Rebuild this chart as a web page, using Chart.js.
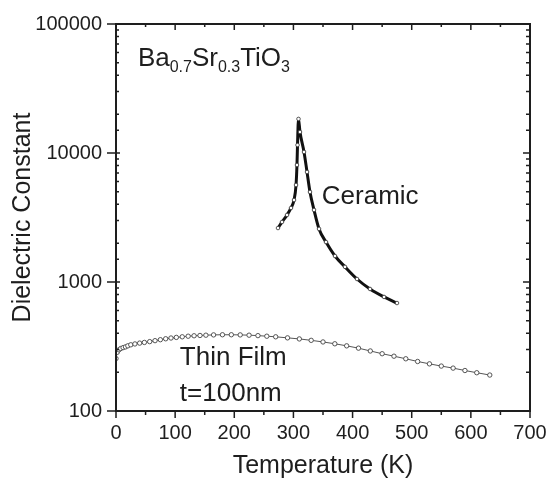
<!DOCTYPE html>
<html>
<head>
<meta charset="utf-8">
<script src="https://cdn.jsdelivr.net/npm/chart.js@4/dist/chart.umd.min.js"></script>
<style>
  body { margin: 0; background: #fff; }
  canvas { display: block; }
</style>
</head>
<body>
<canvas id="chart" width="551" height="481"></canvas>
<script>
/* Ceramic: temperature (K) and dielectric constant */
const ceramicT = [273.9, 280.7, 289.2, 295.9, 301.0, 304.4, 306.0, 306.9, 308.6,
                  311.1, 317.9, 323.0, 328.0, 334.8, 343.3, 355.1, 370.3, 387.2, 407.5, 429.5, 453.2, 475.1];
const ceramicEps = [2620, 2920, 3310, 3750, 4320, 5650, 8070, 11530, 18370,
                    14550, 10190, 7130, 4990, 3620, 2580, 2040, 1590, 1310, 1055, 883, 766, 687];

/* Thin film, t = 100 nm */
const filmT = [0, 2, 5, 8, 12, 16, 20, 25, 32, 40, 48, 57, 66, 75, 84, 93, 102, 112, 122, 132, 142, 152, 165, 180,
               195, 210, 225, 240, 255, 270, 290, 310, 330, 350, 370, 390, 410, 430, 450, 470, 490, 510, 530, 550, 570, 590, 610, 632];
const filmEps = [255, 285, 298, 305, 310, 314, 320, 326, 331, 336, 340, 345, 351, 357, 363, 368, 372, 376, 380, 383, 385, 387, 389, 390,
                 390, 389, 387, 384, 380, 376, 369, 362, 353, 343, 332, 320, 307, 292, 278, 266, 254, 242, 232, 223, 215, 206, 198, 190];

const yTickLabels = [100, 1000, 10000, 100000];
const xMax = 700;

const fontFamily = '"Liberation Sans", Arial, Helvetica, sans-serif';
const ink = '#1e1e1e';

function toPoints(xs, ys) {
  return xs.map((v, i) => ({ x: v, y: ys[i] }));
}

/* Box round the plot plus the small tick marks (outside on left/bottom, inside on top/right) */
const frameTicks = {
  id: 'frameTicks',
  afterDraw(chart) {
    const { ctx, chartArea: a, scales: { x, y } } = chart;
    ctx.save();
    ctx.strokeStyle = ink;
    ctx.lineWidth = 2;
    ctx.strokeRect(a.left, a.top, a.right - a.left, a.bottom - a.top);
    ctx.lineWidth = 1.5;
    ctx.beginPath();
    for (let v = 0; v <= xMax; v += 50) {
      const px = x.getPixelForValue(v);
      const major = v % 100 === 0;
      ctx.moveTo(px, a.bottom);
      ctx.lineTo(px, a.bottom + (major ? 7 : 4));
      ctx.moveTo(px, a.top);
      ctx.lineTo(px, a.top + (major ? 6 : 3));
    }
    y.ticks.forEach(t => {
      const py = y.getPixelForValue(t.value);
      const major = yTickLabels.includes(t.value);
      if (major) {
        ctx.moveTo(a.left - 9, py);
        ctx.lineTo(a.left + 4, py);
        ctx.moveTo(a.right, py);
        ctx.lineTo(a.right - 7, py);
      } else {
        ctx.moveTo(a.left, py);
        ctx.lineTo(a.left + 3, py);
        ctx.moveTo(a.right, py);
        ctx.lineTo(a.right - 4, py);
      }
    });
    ctx.stroke();
    ctx.restore();
  }
};

/* Text labels inside the plot, placed in data coordinates */
const formula = [['Ba', false], ['0.7', true], ['Sr', false], ['0.3', true], ['TiO', false], ['3', true]];
const labels = [
  { text: 'Ceramic', t: 348, eps: 4030 },
  { text: 'Thin Film', t: 108, eps: 227 },
  { text: 't=100nm', t: 108, eps: 120 }
];

const annotations = {
  id: 'annotations',
  afterDraw(chart) {
    const { ctx, scales: { x, y } } = chart;
    ctx.save();
    ctx.fillStyle = ink;
    ctx.textBaseline = 'alphabetic';
    ctx.textAlign = 'left';
    ctx.font = '26px ' + fontFamily;
    labels.forEach(l => {
      ctx.fillText(l.text, x.getPixelForValue(l.t), y.getPixelForValue(l.eps));
    });
    /* chemical formula with subscripts */
    let px = x.getPixelForValue(37);
    const py = y.getPixelForValue(47200);
    formula.forEach(([s, sub]) => {
      ctx.font = (sub ? '16px ' : '26px ') + fontFamily;
      ctx.fillText(s, px, py + (sub ? 6 : 0));
      px += ctx.measureText(s).width;
    });
    ctx.restore();
  }
};

new Chart(document.getElementById('chart'), {
  type: 'line',
  data: {
    datasets: [
      {
        label: 'Ceramic',
        data: toPoints(ceramicT, ceramicEps),
        borderColor: '#111',
        borderWidth: 3,
        cubicInterpolationMode: 'monotone',
        pointRadius: 1.8,
        pointBorderWidth: 0.8,
        pointBorderColor: '#333',
        pointBackgroundColor: '#fff'
      },
      {
        label: 'Thin Film',
        data: toPoints(filmT, filmEps),
        borderColor: '#555',
        borderWidth: 1,
        cubicInterpolationMode: 'monotone',
        pointRadius: 2.2,
        pointBorderWidth: 0.9,
        pointBorderColor: '#444',
        pointBackgroundColor: '#fff'
      }
    ]
  },
  options: {
    responsive: false,
    animation: false,
    layout: { padding: { left: 0, top: 24, right: 21, bottom: 0 } },
    plugins: {
      legend: { display: false },
      tooltip: { enabled: false }
    },
    scales: {
      x: {
        type: 'linear',
        min: 0,
        max: xMax,
        afterFit: scale => {
          scale.height = 70;
          scale.paddingLeft = 0;
          scale.paddingRight = 0;
        },
        grid: { display: false, drawTicks: false },
        border: { display: false },
        ticks: {
          stepSize: 100,
          autoSkip: false,
          maxRotation: 0,
          padding: 10,
          color: ink,
          font: { family: fontFamily, size: 20 }
        },
        title: {
          display: true,
          text: 'Temperature (K)',
          color: ink,
          padding: { top: 0, bottom: 0 },
          font: { family: fontFamily, size: 25 }
        }
      },
      y: {
        type: 'logarithmic',
        min: 100,
        max: 100000,
        afterFit: scale => {
          scale.width = 116;
          scale.paddingTop = 0;
          scale.paddingBottom = 0;
        },
        grid: { display: false, drawTicks: false },
        border: { display: false },
        ticks: {
          autoSkip: false,
          padding: 14,
          color: ink,
          font: { family: fontFamily, size: 20 },
          callback: value => yTickLabels.includes(value) ? String(value) : ''
        },
        title: {
          display: true,
          text: 'Dielectric Constant',
          color: ink,
          padding: { top: 8, bottom: 0 },
          font: { family: fontFamily, size: 25 }
        }
      }
    }
  },
  plugins: [frameTicks, annotations]
});
</script>
</body>
</html>
